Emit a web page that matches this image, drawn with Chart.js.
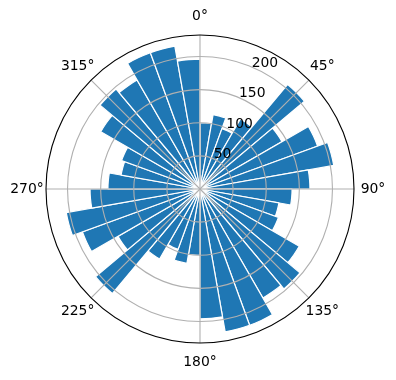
<!DOCTYPE html>
<html>
<head>
<meta charset="utf-8">
<script src="https://cdn.jsdelivr.net/npm/chart.js@4/dist/chart.umd.min.js"></script>
<style>
  html, body { margin: 0; padding: 0; background: #ffffff; }
  #wrap { position: relative; width: 396px; height: 380px; }
</style>
</head>
<body>
<div id="wrap"><canvas id="c"></canvas></div>
<script>
// Direction bins (degrees, start of each 10° bin, clockwise from north)
const directionBins = [0,10,20,30,40,50,60,70,80,90,100,110,120,130,140,150,160,170,
                       180,190,200,210,220,230,240,250,260,270,280,290,300,310,320,330,340,350];
// Bar lengths
const barValues = [100,114,97,122,206,143,189,205,166,139,121,126,173,197,190,219,219,196,
                   100,114,97,122,206,143,189,205,166,139,121,126,173,197,190,219,219,196];
// Radial tick labels and angular tick labels
const radialTicks = [50, 100, 150, 200];
const angleTicks = [0, 45, 90, 135, 180, 225, 270, 315];
const radialMax = 232.5;

const overlay = {
  id: 'polarOverlay',
  afterDatasetsDraw(chart) {
    const s = chart.scales.r;
    const ctx = chart.ctx;
    const cx = s.xCenter, cy = s.yCenter, R = s.drawingArea;
    ctx.save();
    // grid circles
    ctx.strokeStyle = '#b0b0b0';
    ctx.lineWidth = 1.1;
    radialTicks.forEach(v => {
      const r = s.getDistanceFromCenterForValue(v);
      ctx.beginPath();
      ctx.arc(cx, cy, r, 0, 2 * Math.PI);
      ctx.stroke();
    });
    // angle lines
    angleTicks.forEach(a => {
      const t = a * Math.PI / 180;
      ctx.beginPath();
      ctx.moveTo(cx, cy);
      ctx.lineTo(cx + R * Math.sin(t), cy - R * Math.cos(t));
      ctx.stroke();
    });
    // outer spine
    ctx.strokeStyle = '#000000';
    ctx.lineWidth = 1.1;
    ctx.beginPath();
    ctx.arc(cx, cy, R, 0, 2 * Math.PI);
    ctx.stroke();
    // radial labels
    ctx.fillStyle = '#000000';
    ctx.font = '13.9px "DejaVu Sans"';
    ctx.textAlign = 'left';
    ctx.textBaseline = 'alphabetic';
    const rl = 22.5 * Math.PI / 180;
    radialTicks.forEach(v => {
      const r = s.getDistanceFromCenterForValue(v);
      ctx.fillText(String(v), cx + r * Math.sin(rl) + 1, cy - r * Math.cos(rl));
    });
    // angle labels
    ctx.textAlign = 'center';
    ctx.textBaseline = 'middle';
    angleTicks.forEach(a => {
      const t = a * Math.PI / 180;
      const rr = R + 19;
      ctx.fillText(a + '°', cx + rr * Math.sin(t), cy - rr * Math.cos(t));
    });
    ctx.restore();
  }
};

new Chart(document.getElementById('c'), {
  type: 'polarArea',
  data: {
    labels: directionBins.map(d => d + '°'),
    datasets: [{
      data: barValues,
      backgroundColor: '#1f77b4',
      borderColor: '#ffffff',
      borderWidth: 1.2
    }]
  },
  options: {
    responsive: true,
    maintainAspectRatio: false,
    animation: false,
    layout: { padding: { left: 46, right: 42, top: 35, bottom: 37 } },
    plugins: { legend: { display: false }, tooltip: { enabled: false } },
    scales: {
      r: {
        min: 0,
        max: radialMax,
        startAngle: 0,
        ticks: { display: false },
        grid: { display: false },
        angleLines: { display: false },
        pointLabels: { display: false }
      }
    }
  },
  plugins: [overlay]
});
</script>
</body>
</html>
